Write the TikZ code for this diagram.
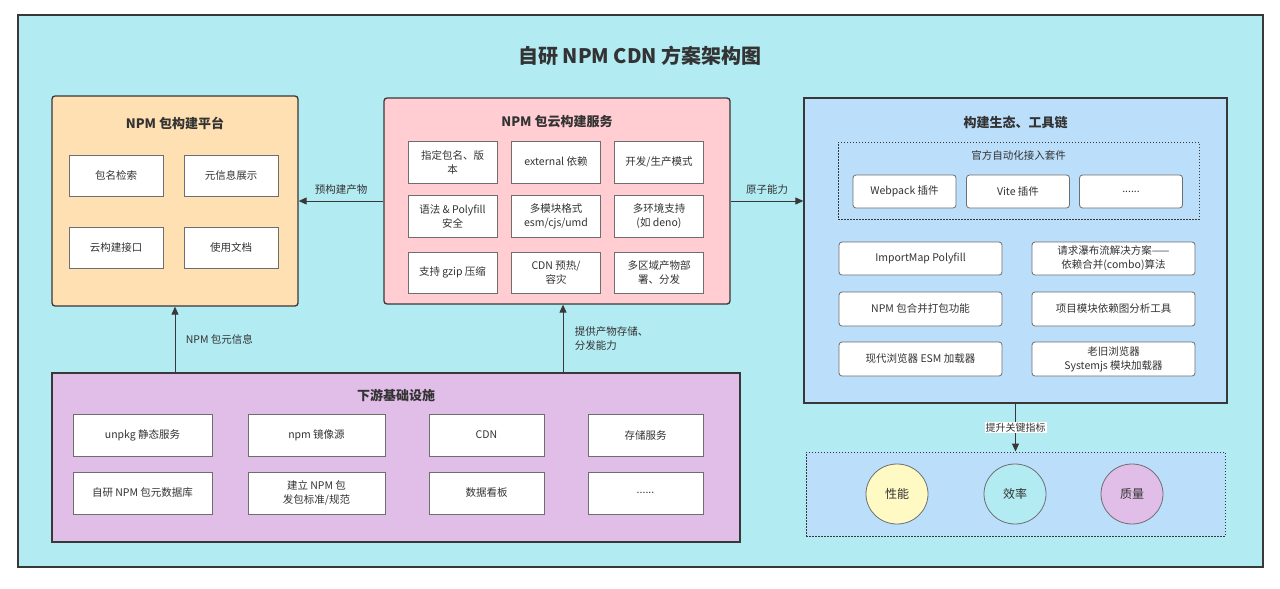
\documentclass[tikz,border=0pt]{standalone}
\usepackage{fontspec}
\setmainfont{Noto Sans CJK SC}
\usetikzlibrary{arrows.meta,shapes.geometric}
\definecolor{bgteal}{HTML}{B2EBF2}
\definecolor{platfill}{HTML}{FFE0B2}
\definecolor{cloudfill}{HTML}{FFCDD2}
\definecolor{ecofill}{HTML}{BBDEFB}
\definecolor{infrafill}{HTML}{E1BEE7}
\definecolor{perffill}{HTML}{FFF9C4}
\definecolor{edge}{HTML}{383838}
\definecolor{celledge}{HTML}{6E6E6E}
\definecolor{txt}{HTML}{333333}

\begin{document}
\begin{tikzpicture}[x=1pt,y=-1pt,
  sect/.style={draw=edge,line width=1.3pt,inner sep=0pt},
  cell/.style={draw=celledge,fill=white,line width=0.8pt},
  rcell/.style={cell,rounded corners=3pt},
  wh/.style 2 args={minimum width=#1pt,minimum height=#2pt},
  head/.style={font=\fontsize{13}{16}\selectfont\bfseries},
  dots/.style={draw=edge,line width=1pt,dash pattern=on 1.5pt off 1.5pt},
  arr/.style={draw=edge,line width=1pt,-{Triangle[length=8pt,width=7pt]}}]
\tikzstyle{every node}+=[text=txt,font=\fontsize{10.5}{14}\selectfont,align=center]
\useasboundingbox (0,0) rectangle (1280,589);
\node[sect,fill=bgteal,wh={1245}{552}] (frame) at (640.5,291) {};
\node[font=\fontsize{20}{24}\selectfont\bfseries] (title) at (640,56) {自研 NPM CDN 方案架构图};

\node[sect,fill=platfill,rounded corners=3pt,wh={246}{210}] (plat) at (175,201) {};
\node[head] (plattitle) at (175,123) {NPM 包构建平台};
\node[cell,wh={94}{41}] (search) at (116,175.5) {包名检索};
\node[cell,wh={94}{41}] (meta) at (231,175.5) {元信息展示};
\node[cell,wh={94}{41}] (api) at (116,247.5) {云构建接口};
\node[cell,wh={94}{41}] (docs) at (231,247.5) {使用文档};

\node[sect,fill=cloudfill,rounded corners=3pt,wh={346}{206}] (cloud) at (557,201) {};
\node[head] (cloudtitle) at (557,122) {NPM 包云构建服务};
\node[cell,wh={89}{42}] (ver) at (452.5,162) {指定包名、版\\本};
\node[cell,wh={89}{42}] (ext) at (556,162) {external 依赖};
\node[cell,wh={89}{42}] (mode) at (659,162) {开发/生产模式};
\node[cell,wh={89}{42}] (syntax) at (452.5,216) {语法 \& Polyfill\\安全};
\node[cell,wh={89}{42}] (fmt) at (556,216) {多模块格式\\esm/cjs/umd};
\node[cell,wh={89}{42}] (env) at (659,216) {多环境支持\\(如 deno)};
\node[cell,wh={89}{41}] (gzip) at (452.5,272.5) {支持 gzip 压缩};
\node[cell,wh={89}{41}] (warm) at (556,272.5) {CDN 预热/\\容灾};
\node[cell,wh={89}{41}] (region) at (659,272.5) {多区域产物部\\署、分发};

\node[sect,fill=ecofill,wh={423}{305}] (eco) at (1015.5,250.5) {};
\node[head] (ecotitle) at (1015.5,122) {构建生态、工具链};
\node[dots,wh={361}{77}] (suite) at (1018.5,180.5) {};
\node (suitetitle) at (1018.5,155) {官方自动化接入套件};
\node[rcell,wh={103}{33}] (webpack) at (904.5,191.5) {Webpack 插件};
\node[rcell,wh={103}{33}] (vite) at (1018,191.5) {Vite 插件};
\node[rcell,wh={103}{33}] (more) at (1131,191.5) {......};
\node[rcell,wh={163}{33}] (importmap) at (920.5,258.5) {ImportMap Polyfill};
\node[rcell,wh={163}{33}] (combo) at (1113.5,258.5) {请求瀑布流解决方案——\\依赖合并(combo)算法};
\node[rcell,wh={163}{34}] (bundle) at (920.5,309) {NPM 包合并打包功能};
\node[rcell,wh={163}{34}] (graph) at (1113.5,309) {项目模块依赖图分析工具};
\node[rcell,wh={163}{34}] (esm) at (920.5,359) {现代浏览器 ESM 加载器};
\node[rcell,wh={163}{34}] (sysjs) at (1113.5,359) {老旧浏览器\\Systemjs 模块加载器};

\node[dots,fill=ecofill,wh={419}{84}] (metric) at (1015.5,494) {};
\node[ellipse,draw=celledge,fill=perffill,line width=0.8pt,wh={62}{60},font=\fontsize{12}{14}\selectfont] (perf) at (897,494) {性能};
\node[ellipse,draw=celledge,fill=bgteal,line width=0.8pt,wh={62}{60},font=\fontsize{12}{14}\selectfont] (eff) at (1015,494) {效率};
\node[ellipse,draw=celledge,fill=infrafill,line width=0.8pt,wh={62}{60},font=\fontsize{12}{14}\selectfont] (qual) at (1132,494) {质量};

\node[sect,fill=infrafill,wh={688}{169}] (infra) at (396,457.5) {};
\node[head] (infratitle) at (396,395) {下游基础设施};
\node[cell,wh={139}{42}] (unpkg) at (142.5,435) {unpkg 静态服务};
\node[cell,wh={137}{42}] (mirror) at (316.5,435) {npm 镜像源};
\node[cell,wh={115}{42}] (cdn) at (486.5,435) {CDN};
\node[cell,wh={115}{42}] (store) at (645.5,435) {存储服务};
\node[cell,wh={139}{42}] (db) at (142.5,493) {自研 NPM 包元数据库};
\node[cell,wh={137}{42}] (spec) at (316.5,493) {建立 NPM 包\\发包标准/规范};
\node[cell,wh={115}{42}] (board) at (486.5,493) {数据看板};
\node[cell,wh={115}{42}] (etc) at (645.5,493) {......};

\coordinate (cloudin) at ([xshift=6pt]cloud.south);
\draw[arr] (cloud.west) -- node[above=3pt] {预构建产物} (plat.east);
\draw[arr] (cloud.east) -- node[above=3pt] {原子能力} (cloud.east -| eco.west);
\draw[arr] (infra.north -| plat.south) -- node[right=7pt] {NPM 包元信息} (plat.south);
\draw[arr] (cloudin |- infra.north) -- node[right=8pt,align=left] {提供产物存储、\\分发能力} (cloudin);
\draw[arr] (eco.south) -- node[fill=white,inner sep=1pt,font=\fontsize{10}{12}\selectfont] {提升关键指标} (metric.north);
\end{tikzpicture}
\end{document}
